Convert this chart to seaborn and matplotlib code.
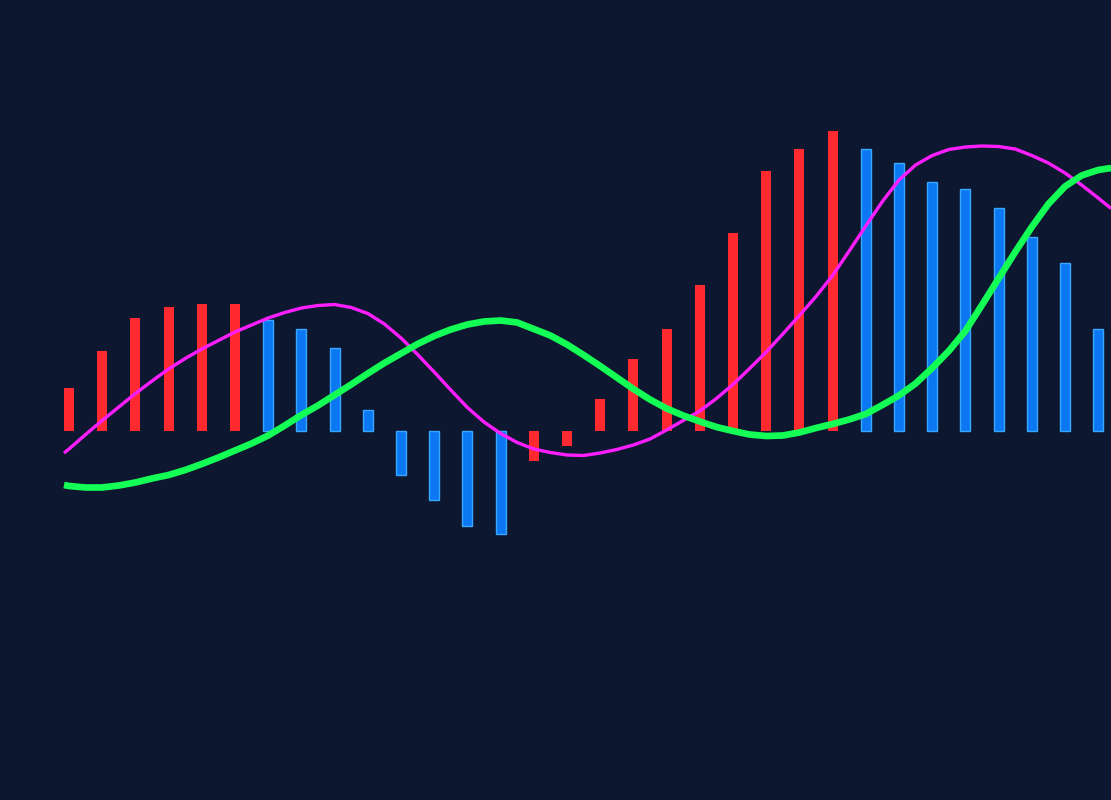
import numpy as np
import pandas as pd
import matplotlib
matplotlib.use('Agg')
import matplotlib.pyplot as plt
import seaborn as sns

# histogram bars (one per period)
hist = [0.43, 0.80, 1.13, 1.24, 1.27, 1.27, 1.11, 1.02, 0.83, 0.21,
        -0.44, -0.69, -0.95, -1.03, -0.30, -0.15, 0.32, 0.72, 1.02, 1.46,
        1.98, 2.60, 2.82, 3.00, 2.82, 2.68, 2.49, 2.42, 2.23, 1.94,
        1.68, 1.02]
trend = ['up'] * 6 + ['down'] * 8 + ['up'] * 10 + ['down'] * 8

# the two lines, sampled every half period
line_x = [-0.15] + list(np.arange(0, 31.5, 0.5)) + [31.39]
macd = [-0.22, -0.18, -0.035, 0.105, 0.24, 0.375, 0.50, 0.62, 0.725, 0.82,
        0.905, 0.99, 1.06, 1.13, 1.185, 1.23, 1.255, 1.265, 1.235, 1.175,
        1.07, 0.93, 0.765, 0.59, 0.41, 0.235, 0.09, -0.025, -0.115, -0.18,
        -0.215, -0.24, -0.245, -0.22, -0.185, -0.14, -0.08, 0.01, 0.105, 0.20,
        0.325, 0.465, 0.625, 0.79, 0.97, 1.155, 1.345, 1.555, 1.80, 2.05,
        2.295, 2.51, 2.66, 2.755, 2.815, 2.84, 2.85, 2.845, 2.82, 2.755,
        2.68, 2.58, 2.46, 2.33, 2.225]
signal = [-0.54, -0.55, -0.565, -0.565, -0.545, -0.515, -0.475, -0.44, -0.39, -0.33,
          -0.265, -0.195, -0.125, -0.045, 0.055, 0.16, 0.255, 0.36, 0.465, 0.575,
          0.68, 0.775, 0.87, 0.95, 1.015, 1.065, 1.095, 1.105, 1.085, 1.02,
          0.955, 0.865, 0.76, 0.65, 0.535, 0.42, 0.315, 0.225, 0.155, 0.095,
          0.04, 0.00, -0.035, -0.05, -0.045, -0.015, 0.03, 0.07, 0.115, 0.17,
          0.26, 0.355, 0.475, 0.63, 0.80, 1.00, 1.26, 1.525, 1.79, 2.04,
          2.27, 2.445, 2.555, 2.61, 2.63]

bg = '#0e1730'
red = '#ff2a30'
blue = '#0b78f2'

df = pd.DataFrame({'t': np.arange(len(hist)), 'hist': hist, 'trend': trend})

fig = plt.figure(figsize=(11.11, 8), dpi=100, facecolor=bg)
ax = fig.add_axes([0, 0, 1, 1])
ax.set_facecolor(bg)

sns.barplot(data=df[df.trend == 'up'], x='t', y='hist', native_scale=True,
            color=red, width=0.3, saturation=1, edgecolor='none', ax=ax)
sns.barplot(data=df[df.trend == 'down'], x='t', y='hist', native_scale=True,
            color=blue, width=0.3, saturation=1, edgecolor='#3aa6ff',
            linewidth=1, ax=ax)

sns.lineplot(x=line_x, y=macd, color='#ff1eff', linewidth=2.4, sort=False,
             ax=ax, solid_capstyle='butt', solid_joinstyle='round')
sns.lineplot(x=line_x, y=signal, color='#14ff55', linewidth=4.8, sort=False,
             ax=ax, solid_capstyle='butt', solid_joinstyle='round')

ax.set_xlim(-2.078, 31.386)
ax.set_ylim(-3.69, 4.31)
ax.axis('off')

fig.savefig('out.png', dpi=100, facecolor=bg)
